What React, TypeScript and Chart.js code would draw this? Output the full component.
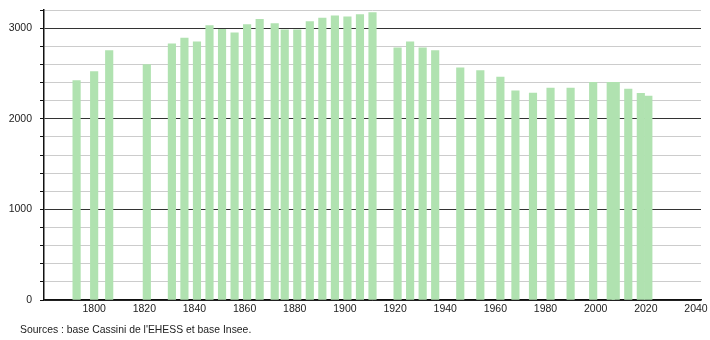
import React, { useEffect, useRef } from "react";
import { Chart, registerables } from "chart.js";

Chart.register(...registerables);

const years = [
  1793, 1800, 1806, 1821, 1831, 1836, 1841, 1846, 1851, 1856, 1861, 1866, 1872,
  1876, 1881, 1886, 1891, 1896, 1901, 1906, 1911, 1921, 1926, 1931, 1936, 1946,
  1954, 1962, 1968, 1975, 1982, 1990, 1999, 2006, 2008, 2013, 2018, 2021,
];
const population = [
  2420, 2520, 2753, 2598, 2827, 2890, 2849, 3027, 2986, 2949, 3038, 3097, 3049,
  2982, 2982, 3071, 3112, 3137, 3126, 3149, 3171, 2783, 2849, 2783, 2753, 2561,
  2531, 2461, 2309, 2284, 2339, 2339, 2402, 2402, 2402, 2328, 2280, 2251,
];
const xMin = 1780;
const xMax = 2042;
const xTickStep = 20;
const xFirstLabel = 1800;
const yMax = 3200;
const yTickStep = 200;
const yMajorStep = 1000;
const sourceText = "Sources : base Cassini de l'EHESS et base Insee.";

const FONT = "'Liberation Sans', Arial, sans-serif";

export default function App() {
  const ref = useRef<HTMLCanvasElement>(null);

  useEffect(() => {
    if (!ref.current) return;
    const chart = new Chart(ref.current, {
      type: "bar",
      data: {
        datasets: [
          {
            data: years.map((y, i) => ({ x: y, y: population[i] })),
            backgroundColor: "rgb(176, 226, 176)",
            borderWidth: 0,
            barThickness: 7.5,
          },
        ],
      },
      options: {
        animation: false,
        responsive: false,
        layout: { padding: { top: 10, right: 9, bottom: 20, left: 0 } },
        plugins: {
          legend: { display: false },
          tooltip: { enabled: false },
          title: { display: false },
        },
        scales: {
          x: {
            type: "linear",
            min: xMin,
            max: xMax,
            offset: false,
            grid: { display: false, drawTicks: false },
            border: { display: true, color: "#111", width: 1.5 },
            ticks: {
              stepSize: xTickStep,
              includeBounds: false,
              autoSkip: false,
              maxRotation: 0,
              padding: 3,
              color: "#222",
              font: { family: FONT, size: 10.5 },
              callback: (v: any) =>
                v % xTickStep === 0 && v >= xFirstLabel ? String(v) : "",
            },
            afterFit: (s: any) => {
              s.height = 20;
              s.paddingLeft = 0;
              s.paddingRight = 0;
            },
          },
          y: {
            min: 0,
            max: yMax,
            grid: {
              color: (ctx: any) =>
                ctx.tick && ctx.tick.value % yMajorStep === 0 ? "#333" : "#cccccc",
              lineWidth: 1,
              tickColor: "#111",
              tickLength: 4,
            },
            border: { display: true, color: "#111", width: 1.5 },
            ticks: {
              stepSize: yTickStep,
              autoSkip: false,
              padding: 8,
              color: "#222",
              font: { family: FONT, size: 10.5 },
              callback: (v: any) => (v % yMajorStep === 0 ? String(v) : ""),
            },
            afterFit: (s: any) => {
              s.width = 44;
              s.paddingTop = 0;
              s.paddingBottom = 0;
            },
          },
        },
      },
    });
    return () => chart.destroy();
  }, []);

  return (
    <div
      style={{
        position: "absolute",
        left: 0,
        top: 0,
        width: 710,
        height: 340,
        background: "#fff",
      }}
    >
      <canvas ref={ref} width={710} height={340} style={{ display: "block" }} />
      <div
        style={{
          position: "absolute",
          left: 20,
          top: 323,
          fontFamily: FONT,
          fontSize: 10.4,
          color: "#222",
          whiteSpace: "nowrap",
          lineHeight: "14px",
        }}
      >
        {sourceText}
      </div>
    </div>
  );
}
